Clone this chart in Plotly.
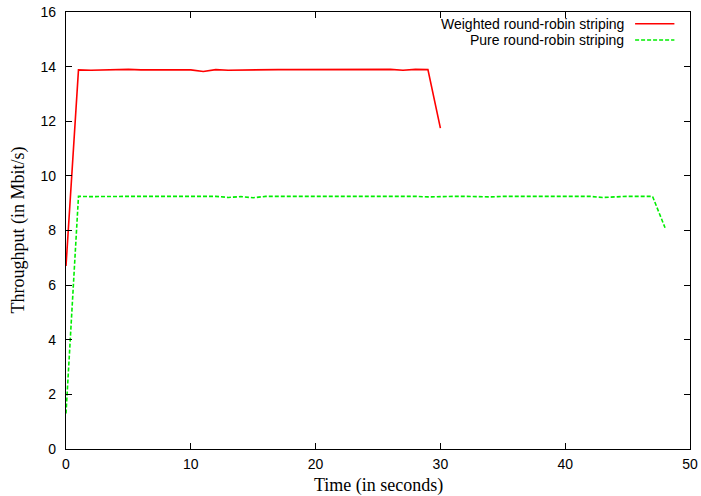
import plotly.graph_objects as go

# Throughput per second for the two striping schemes
weighted_time = list(range(0, 31))
weighted_mbps = [6.7, 13.88, 13.87, 13.88, 13.87, 13.9, 13.88, 13.88, 13.87, 13.88,
                 13.88, 13.82, 13.89, 13.87, 13.88, 13.89, 13.89, 13.89, 13.89, 13.89,
                 13.88, 13.89, 13.89, 13.89, 13.89, 13.88, 13.9, 13.87, 13.9, 13.89,
                 11.75]

pure_time = list(range(0, 49))
pure_mbps = [1.3, 9.25, 9.24, 9.25, 9.24, 9.25, 9.25, 9.24, 9.25, 9.25,
             9.25, 9.25, 9.25, 9.21, 9.24, 9.2, 9.25, 9.25, 9.25, 9.26,
             9.25, 9.25, 9.25, 9.25, 9.25, 9.26, 9.25, 9.25, 9.25, 9.23,
             9.25, 9.25, 9.25, 9.24, 9.23, 9.25, 9.26, 9.25, 9.25, 9.25,
             9.25, 9.25, 9.25, 9.21, 9.24, 9.25, 9.25, 9.25, 8.1]

series_names = ["Weighted round-robin striping", "Pure round-robin striping"]
x_ticks = [0, 10, 20, 30, 40, 50]
y_ticks = [0, 2, 4, 6, 8, 10, 12, 14, 16]

RED = "#ff0000"
GREEN = "#00ee00"
SANS = "Liberation Sans, Arial"
SERIF = "Liberation Serif, Times New Roman"

fig = go.Figure()
fig.add_trace(go.Scatter(x=weighted_time, y=weighted_mbps, mode="lines",
                         name=series_names[0], line=dict(color=RED, width=1.6)))
fig.add_trace(go.Scatter(x=pure_time, y=pure_mbps, mode="lines",
                         name=series_names[1],
                         line=dict(color=GREEN, width=1.6, dash="4px,2px")))

axis_common = dict(showgrid=False, zeroline=False, showline=True, linecolor="black",
                   linewidth=1.2, mirror="allticks", ticks="inside", ticklen=6,
                   tickcolor="black", tickwidth=1, automargin=False,
                   tickfont=dict(family=SANS, size=14, color="black"))

fig.update_layout(
    width=701, height=496,
    margin=dict(l=66, r=11, t=12, b=47),
    paper_bgcolor="white", plot_bgcolor="white",
    showlegend=False,
    xaxis=dict(range=[0, 50], tickvals=x_ticks, ticklabelstandoff=2, **axis_common),
    yaxis=dict(range=[0, 16], tickvals=y_ticks, ticklabelstandoff=6, **axis_common),
)

# Axis titles
fig.add_annotation(xref="paper", yref="paper", x=0.5, y=0, yshift=-36,
                   text="Time (in seconds)", showarrow=False,
                   xanchor="center", yanchor="middle",
                   font=dict(family=SERIF, size=18, color="black"))
fig.add_annotation(xref="paper", yref="paper", x=0, y=0.5, xshift=-48,
                   text="Throughput (in Mbit/s)", showarrow=False, textangle=-90,
                   xanchor="center", yanchor="middle",
                   font=dict(family=SERIF, size=18, color="black"))

# Key in the top-right corner: right-aligned labels followed by line samples
key_rows = [(series_names[0], RED, "solid"), (series_names[1], GREEN, "4px,2px")]
for i, (label, color, dash) in enumerate(key_rows):
    yk = 0.973 - i * 0.037
    fig.add_annotation(xref="paper", yref="paper", x=0.897, y=yk, text=label,
                       showarrow=False, xanchor="right", yanchor="middle",
                       font=dict(family=SANS, size=14, color="black"))
    fig.add_shape(type="line", xref="paper", yref="paper",
                  x0=0.912, x1=0.975, y0=yk, y1=yk,
                  line=dict(color=color, width=1.6, dash=dash))

fig.write_html("out.html")
